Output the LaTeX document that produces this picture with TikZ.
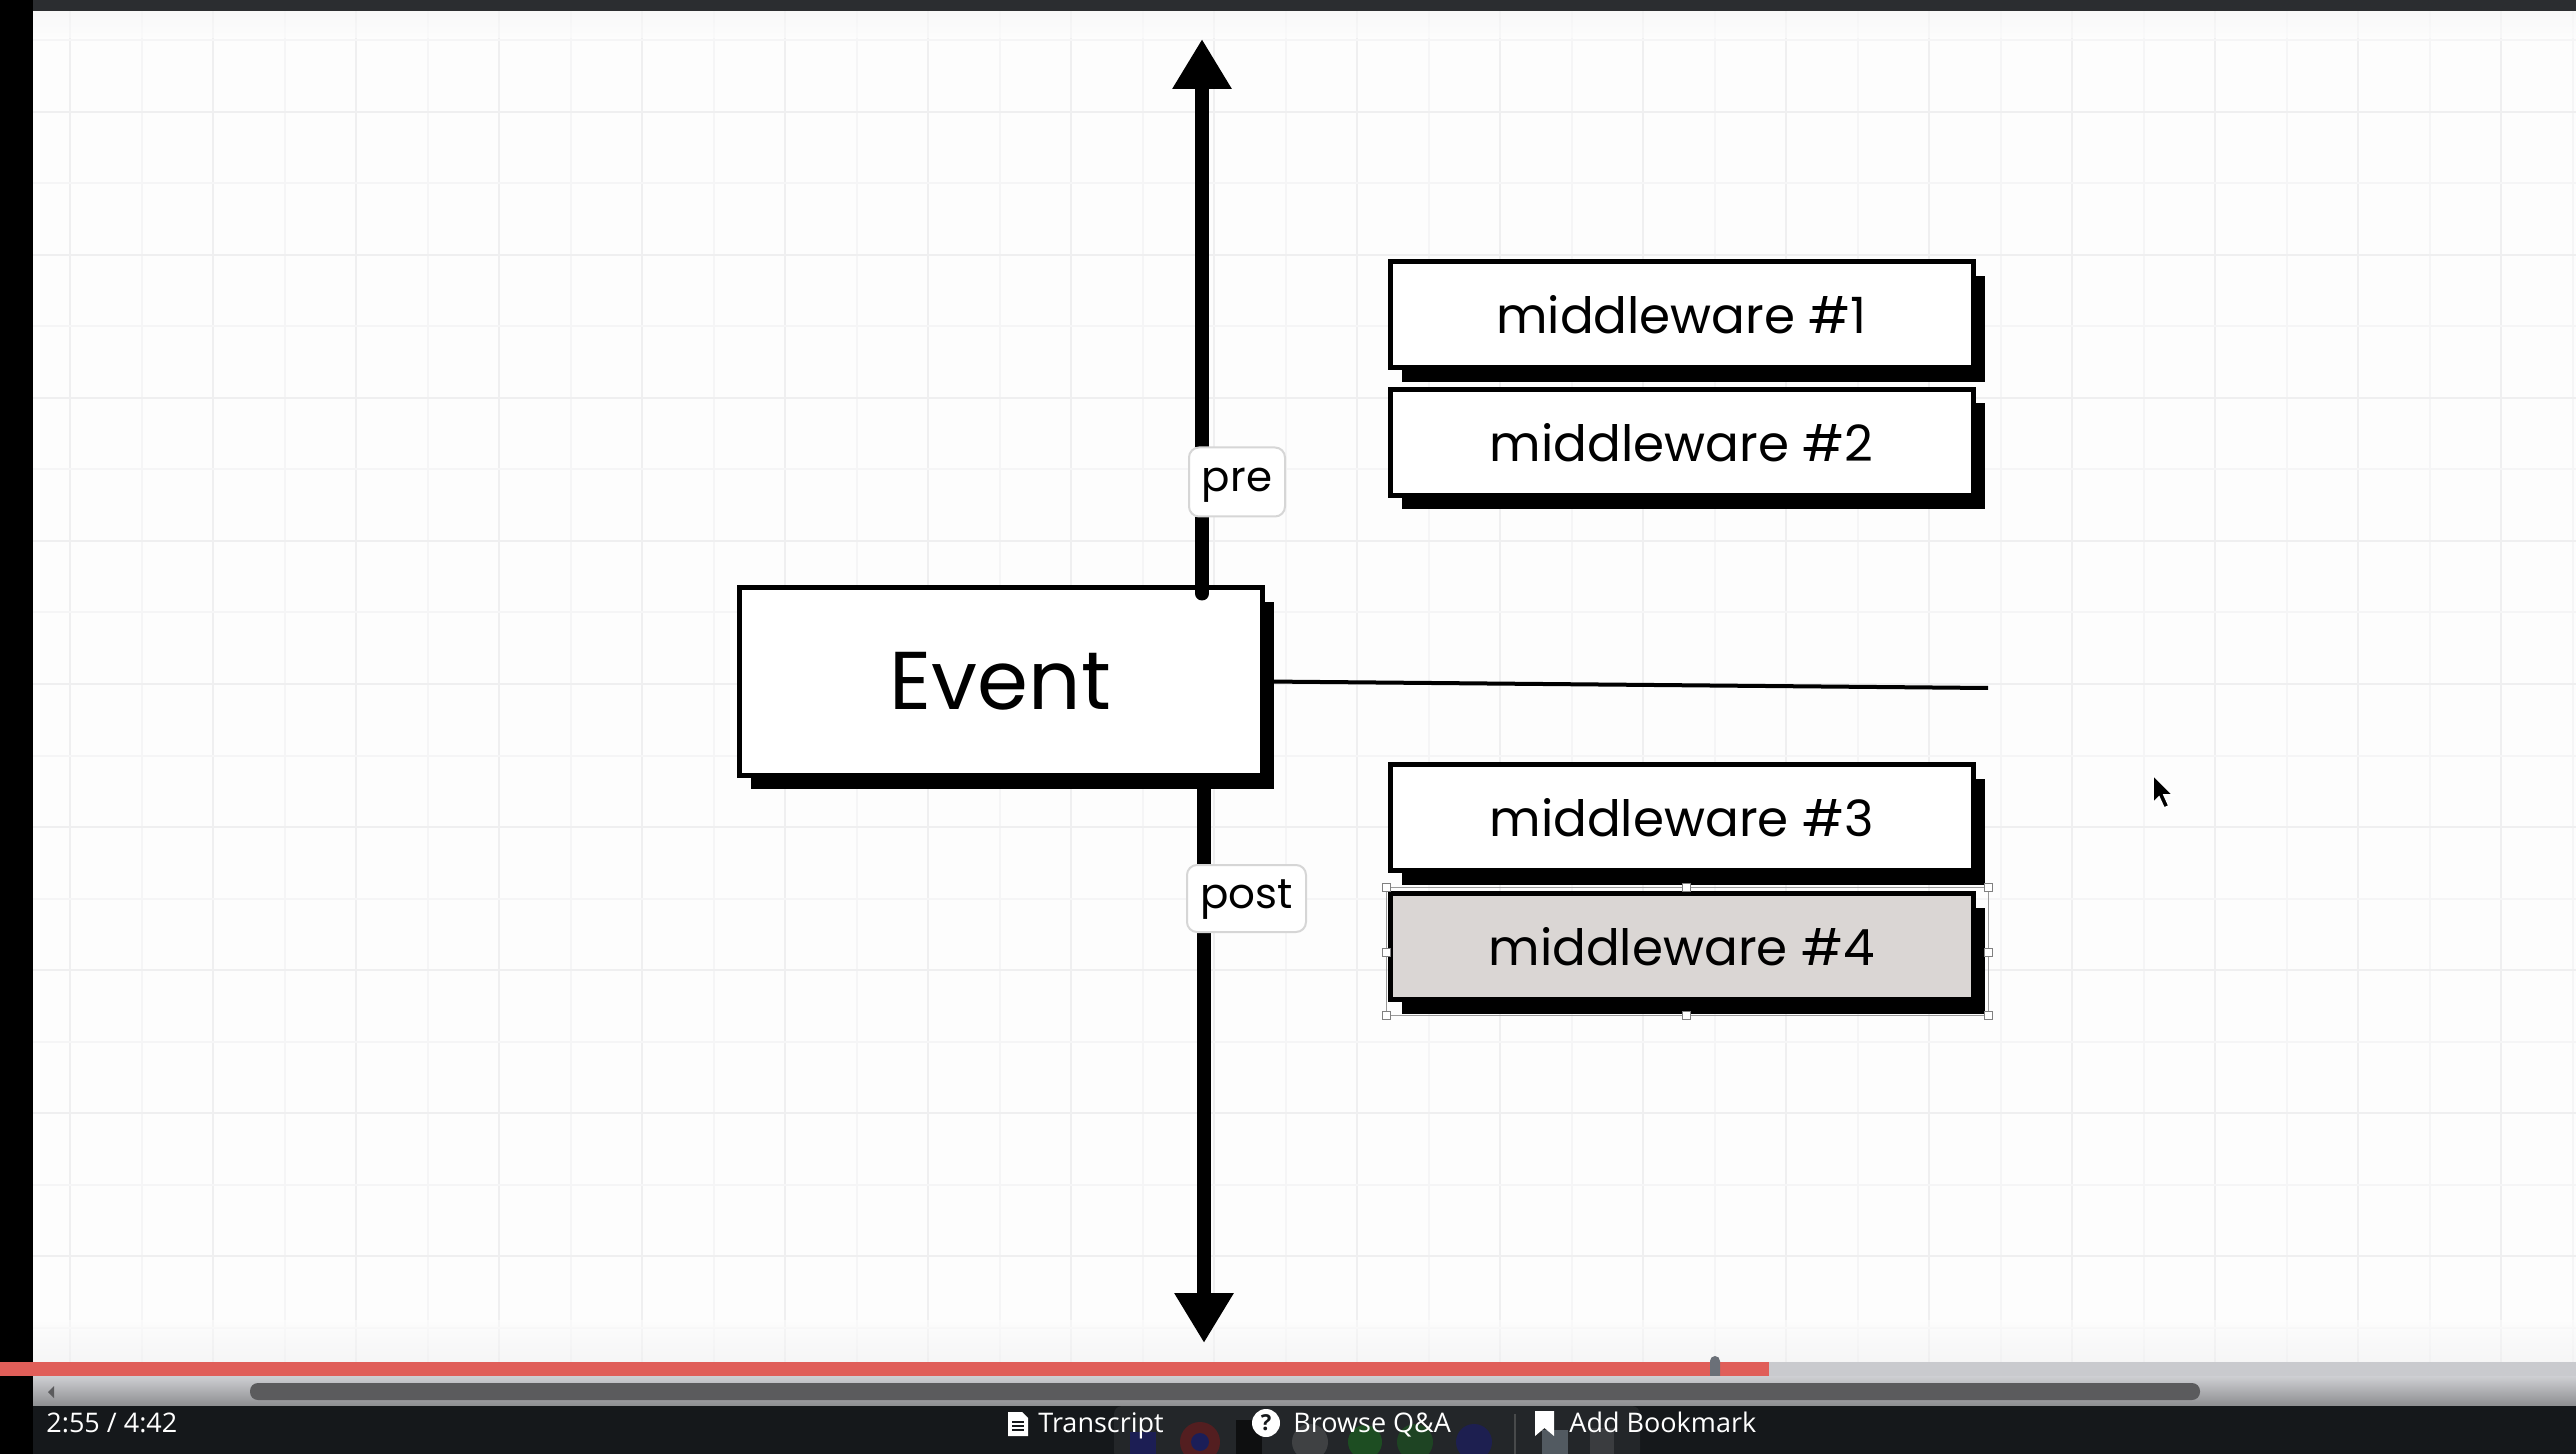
\documentclass[tikz,border=0pt]{standalone}
\usepackage{fontspec}
\setmainfont{Open Sans}
\newfontfamily\pop{Poppins}
\usetikzlibrary{arrows.meta,shadows,calc}
\definecolor{bgc}{HTML}{FDFDFD}
\definecolor{gmaj}{HTML}{EFEFF0}
\definecolor{gmin}{HTML}{F5F5F6}
\definecolor{redbar}{HTML}{E05E59}
\definecolor{greybar}{HTML}{C9CACE}
\definecolor{knobc}{HTML}{6B7078}
\definecolor{thumbc}{HTML}{5B5B5D}
\definecolor{darkbar}{HTML}{15181B}
\definecolor{topbar}{HTML}{2B2D30}
\definecolor{selgrey}{HTML}{DAD6D4}
\definecolor{labelborder}{HTML}{D6D6D6}
\definecolor{dockc}{HTML}{232629}
\tikzset{
  mbox/.style={draw=black, line width=2.5pt, fill=white, minimum width=291.5pt, minimum height=53pt,
    inner sep=0pt, font=\pop\fontsize{25}{25}\selectfont,
    drop shadow={shadow xshift=6pt, shadow yshift=-7pt, fill=black, opacity=1}},
  evbox/.style={draw=black, line width=2.5pt, fill=white, minimum width=261.5pt, minimum height=93.5pt,
    inner sep=0pt, font=\pop\fontsize{41}{41}\selectfont,
    drop shadow={shadow xshift=6pt, shadow yshift=-7pt, fill=black, opacity=1}},
  axisline/.style={line width=7pt, line cap=round, -{Triangle[length=25pt,width=28pt]}},
  tag/.style={draw=labelborder, line width=1pt, fill=white, rounded corners=5pt, inner sep=0pt,
    text height=1.15em, text depth=0.2em, font=\pop\fontsize{21}{21}\selectfont},
  handle/.style={draw=gray, line width=0.5pt, fill=white, minimum size=4pt, inner sep=0pt},
  uitext/.style={text=white, font=\fontsize{13.5}{13.5}\selectfont, anchor=base west, inner sep=0pt}
}
\begin{document}
\begin{tikzpicture}[x=0.5pt,y=-0.5pt]
\useasboundingbox (0,0) rectangle (2576,1454);
% canvas
\fill[bgc] (33,11) rectangle (2576,1362);
% grid
\foreach \k in {0,...,35} {
  \pgfmathsetmacro{\xx}{70+71.5*\k}
  \pgfmathtruncatemacro{\odd}{mod(\k,2)}
  \ifnum\odd=0 \draw[gmaj, line width=1.2pt] (\xx,11) -- (\xx,1362);
  \else \draw[gmin, line width=1pt] (\xx,11) -- (\xx,1362); \fi
}
\foreach \k in {0,...,18} {
  \pgfmathsetmacro{\yy}{40.5+71.5*\k}
  \pgfmathtruncatemacro{\odd}{mod(\k,2)}
  \ifnum\odd=1 \draw[gmaj, line width=1.2pt] (33,\yy) -- (2576,\yy);
  \else \draw[gmin, line width=1pt] (33,\yy) -- (2576,\yy); \fi
}
\shade[top color=gmin, bottom color=bgc, opacity=0.6] (33,11) rectangle (2576,38);
\shade[top color=bgc, bottom color=gmaj, opacity=0.5] (33,1320) rectangle (2576,1362);
% frame of player
\fill[black] (0,0) rectangle (33,1454);
\fill[topbar] (33,0) rectangle (2576,11);

% Event box
\node[evbox] (e) at (1000.5,681.5) {Event};
% middleware boxes
\node[mbox] (m1) at (1681.5,315) {middleware \#1};
\node[mbox] (m2) at (1681.5,442.5) {middleware \#2};
\node[mbox] (m3) at (1681.5,817.5) {middleware \#3};
\node[mbox, fill=selgrey] (m4) at (1681.5,946.5) {middleware \#4};

% selection of middleware #4
\draw[gray!80, line width=0.5pt] (1386,887) rectangle (1988,1015);
\foreach \p in {(1386,887),(1686,887),(1988,887),(1386,952),(1988,952),(1386,1015),(1686,1015),(1988,1015)}
  \node[handle] at \p {};

% axis
\coordinate (top) at (1202,39);
\coordinate (bot) at (1204,1343);
\coordinate (hend) at (1988,688);
\draw[axisline] ([yshift=-4pt]e.north -| top) -- (top);
\draw[axisline] ([yshift=-5pt]e.south -| bot) -- (bot);
\draw[line width=2pt] (e.east) -- (hend);

% labels
\node[tag, minimum width=48pt, minimum height=34.5pt] (pre) at (1237,482) {pre};
\node[tag, minimum width=59.5pt, minimum height=33.5pt] (post) at (1246.5,898.5) {post};

% cursor
\filldraw[fill=black, draw=white, line width=0.8pt]
  (2153,775) -- (2153,803) -- (2159,797) -- (2164,808) -- (2169,806) -- (2164,795) -- (2173,795) -- cycle;

% progress bar
\fill[redbar] (0,1362) rectangle (1769,1376);
\fill[greybar] (1769,1362) rectangle (2576,1376);
\fill[knobc, rounded corners=2.5pt] (1710,1356) rectangle (1720,1381);
% scroll bar
\shade[top color=greybar!90!white, bottom color=greybar!70!black] (33,1376) rectangle (2576,1406);
\fill[thumbc, rounded corners=4pt] (250,1383) rectangle (2200,1400);
\fill[thumbc] (48,1392) -- (54,1386) -- (54,1398) -- cycle;
% bottom bar
\fill[darkbar] (33,1406) rectangle (2576,1454);
\fill[dockc, rounded corners=4pt] (1114,1406) rectangle (1640,1460);
\fill[blue!20!dockc] (1130,1432) rectangle (1156,1454);
\fill[red!22!dockc] (1200,1442) circle (20);
\fill[blue!22!dockc] (1200,1442) circle (9);
\fill[black!60!dockc] (1236,1420) rectangle (1262,1454);
\fill[gray!30!dockc] (1310,1442) circle (18);
\fill[green!18!dockc] (1365,1442) circle (17);
\fill[green!14!dockc] (1415,1442) circle (18);
\fill[blue!18!dockc] (1474,1442) circle (18);
\draw[gray!40!dockc, line width=1pt] (1515,1414) -- (1515,1454);
\fill[cyan!16!dockc] (1542,1430) rectangle (1568,1454);
\fill[gray!25!dockc] (1590,1428) rectangle (1614,1454);

\node[uitext] (time) at (46,1432) {2:55 / 4:42};
% transcript icon
\fill[white] (1008,1412) -- (1022,1412) -- (1028,1418) -- (1028,1436) -- (1008,1436) -- cycle;
\foreach \yy in {1422,1426,1430} \draw[darkbar, line width=0.8pt] (1012,\yy) -- (1024,\yy);
\node[uitext] (tr) at (1038,1432) {Transcript};
% browse icon
\fill[white] (1266,1423) circle (14);
\node[text=darkbar, font=\bfseries\fontsize{11}{11}\selectfont, inner sep=0pt] (q) at (1266,1423) {?};
\node[uitext] (br) at (1293,1432) {Browse Q\&A};
% bookmark icon
\fill[white] (1535,1411) -- (1554,1411) -- (1554,1436) -- (1544.5,1428) -- (1535,1436) -- cycle;
\node[uitext] (bm) at (1569,1432) {Add Bookmark};
\end{tikzpicture}
\end{document}
